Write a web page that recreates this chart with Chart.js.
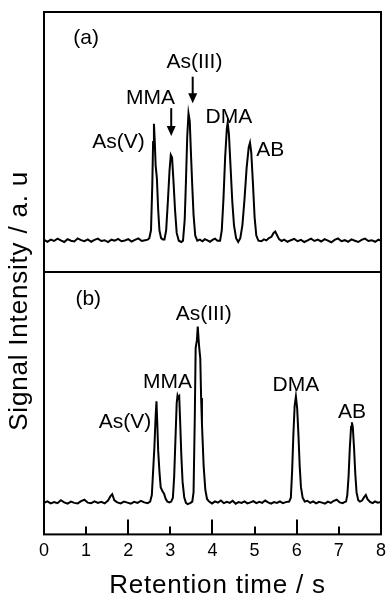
<!DOCTYPE html>
<html>
<head>
<meta charset="utf-8">
<script src="https://cdn.jsdelivr.net/npm/chart.js@4.4.1/dist/chart.umd.min.js"></script>
<style>
  html, body { margin: 0; padding: 0; background: #fff; }
  #wrap { width: 392px; height: 595px; }
</style>
</head>
<body>
<div id="wrap"><canvas id="c" width="392" height="595"></canvas></div>
<script>
// Panel (a): retention time (s) and detector signal (a.u.)
const timeA = [
  0.00,0.08,0.16,0.24,0.32,0.40,0.48,0.56,0.64,0.72,0.80,0.88,0.96,1.04,1.12,1.20,
  1.28,1.36,1.44,1.52,1.60,1.68,1.76,1.84,1.92,2.00,2.08,2.16,2.24,2.32,2.40,2.46,
  2.50,2.54,2.57,2.59,2.61,2.63,2.65,2.68,2.71,2.74,2.78,2.82,
  2.86,2.90,2.94,2.98,3.01,3.04,3.07,3.11,3.15,3.20,3.26,
  3.30,3.34,3.37,3.40,3.43,3.46,3.49,3.52,3.55,3.59,3.64,
  3.70,3.76,3.82,3.88,3.94,4.00,4.06,4.12,
  4.18,4.22,4.26,4.30,4.34,4.36,4.39,4.43,4.47,4.51,4.56,4.61,
  4.66,4.71,4.76,4.81,4.86,4.89,4.92,4.96,5.00,5.04,5.09,
  5.16,5.22,5.28,5.34,5.40,5.45,5.49,5.53,5.58,5.64,5.70,5.78,5.86,5.94,6.02,6.10,
  6.18,6.26,6.34,6.42,6.50,6.58,6.66,6.74,6.82,6.90,6.98,7.06,7.14,7.22,7.30,7.38,
  7.46,7.54,7.62,7.70,7.78,7.86,7.94,8.00
];
const signalA = [
  12.3,11.6,12.4,11.9,12.8,12.1,11.5,12.6,12.0,11.7,12.9,12.2,11.8,12.5,11.6,12.3,
  12.8,11.9,12.2,11.5,12.4,12.0,12.7,11.8,12.1,12.6,11.7,12.3,12.9,11.9,12.2,12.4,
  13.0,16.0,33.0,50.0,57.0,50.0,41.0,36.0,24.0,16.0,13.0,12.5,
  12.5,16.0,27.0,39.0,45.0,44.0,36.0,24.0,15.0,12.0,11.5,
  12.0,20.0,35.0,52.0,61.0,58.0,45.0,33.0,22.0,14.0,12.0,
  12.4,11.8,12.6,12.1,11.6,12.3,12.8,12.0,
  12.0,16.0,28.0,44.0,55.0,57.4,53.0,40.0,27.0,18.0,13.0,11.5,
  13.0,18.0,28.0,40.0,48.0,49.7,46.0,34.0,21.0,14.0,12.0,
  11.8,12.5,12.1,13.0,13.5,15.0,15.5,14.2,12.6,11.9,12.4,11.6,12.2,12.7,11.8,12.3,
  11.5,12.1,12.8,11.9,12.4,11.7,12.6,12.0,11.4,12.3,12.9,11.8,12.2,11.6,12.5,12.0,
  11.5,12.3,12.8,11.9,12.2,11.6,12.4,12.0
];

// Panel (b)
const timeB = [
  0.00,0.08,0.16,0.24,0.32,0.40,0.48,0.56,0.64,0.72,0.80,0.88,0.96,1.04,1.12,1.20,
  1.28,1.36,1.44,1.52,1.58,1.62,1.67,1.74,1.82,1.90,1.98,2.06,2.14,2.22,2.30,2.38,2.46,
  2.52,2.56,2.59,2.62,2.65,2.67,2.69,2.71,2.74,2.77,2.81,2.85,2.89,2.93,
  2.98,
  3.02,3.06,3.09,3.12,3.15,3.17,3.19,3.21,3.23,3.26,3.29,3.33,3.37,3.41,
  3.48,3.52,3.55,3.58,3.60,3.63,3.65,3.68,3.71,3.73,3.75,3.79,3.83,3.87,3.92,
  3.99,4.06,4.13,4.20,4.27,4.34,4.41,4.48,4.55,4.62,4.69,4.76,4.83,4.90,4.97,5.04,
  5.11,5.18,5.25,5.32,5.39,5.46,5.53,5.60,5.67,5.74,
  5.82,5.86,5.89,5.92,5.95,5.98,6.01,6.04,6.07,6.10,6.14,6.19,
  6.25,6.32,6.39,6.46,6.53,6.60,6.67,6.74,6.81,6.88,6.95,7.02,7.09,7.13,
  7.17,7.20,7.23,7.26,7.29,7.31,7.33,7.36,7.39,7.42,7.46,7.50,
  7.55,7.60,7.64,7.68,7.74,7.80,7.86,7.92,8.00
];
const signalB = [
  12.0,12.6,11.8,12.3,11.9,13.0,12.2,11.7,12.5,12.0,11.8,12.7,13.2,12.1,11.9,12.6,
  12.0,12.4,11.8,12.9,14.6,15.3,13.0,12.2,11.8,12.5,12.1,11.7,12.4,12.0,12.8,12.2,11.9,
  12.5,15.0,24.0,33.0,45.0,50.7,42.0,32.0,24.0,18.0,16.5,15.5,13.5,12.5,
  12.2,
  12.5,14.0,22.0,36.0,50.0,52.9,52.0,52.5,44.0,30.0,20.0,14.0,12.0,11.5,
  12.0,12.5,16.0,45.0,71.0,74.0,79.2,72.0,67.0,52.0,42.0,26.0,17.0,13.5,12.5,
  11.8,12.6,12.1,12.9,11.9,12.4,12.0,12.8,11.7,12.3,12.0,12.6,11.8,12.2,12.7,11.9,
  12.4,12.0,12.9,12.2,11.7,12.3,12.0,12.6,11.9,12.3,
  12.5,14.0,24.0,38.0,49.0,52.6,48.0,38.0,26.0,18.0,14.0,12.5,
  12.8,12.0,12.6,11.8,12.4,12.1,11.7,12.5,12.0,12.8,13.2,12.2,11.9,12.3,
  12.5,15.0,22.0,33.0,41.0,42.7,41.0,33.0,23.0,16.0,13.0,12.5,
  12.9,14.2,15.0,13.4,12.4,11.9,12.6,12.1,12.3
];

// Axis ticks (s)
const xTickValues = [0, 1, 2, 3, 4, 5, 6, 7, 8];

// Peak names and panel tags, anchored in (time, signal) units of each panel
const notesA = [
  { text: '(a)',     t: 1.00, v: 90.0 },
  { text: 'As(V)',   t: 1.77, v: 50.0 },
  { text: 'MMA',     t: 2.53, v: 66.9 },
  { text: 'As(III)', t: 3.57, v: 80.8 },
  { text: 'DMA',     t: 4.39, v: 59.6 },
  { text: 'AB',      t: 5.37, v: 46.9 }
];
const notesB = [
  { text: '(b)',     t: 1.05, v: 89.7 },
  { text: 'As(V)',   t: 1.92, v: 42.6 },
  { text: 'MMA',     t: 2.93, v: 57.8 },
  { text: 'As(III)', t: 3.79, v: 83.7 },
  { text: 'DMA',     t: 5.98, v: 56.7 },
  { text: 'AB',      t: 7.31, v: 46.4 }
];
// Downward arrows in panel (a): time, start signal, tip signal
const arrowsA = [
  { t: 3.02, from: 63.0, to: 52.3 },
  { t: 3.53, from: 75.1, to: 64.9 }
];

const FONT = "'Liberation Sans', Arial, Helvetica, sans-serif";
Chart.defaults.font.family = FONT;
Chart.defaults.color = '#000';

const toPoints = (ts, vs) => ts.map((t, i) => ({ x: t, y: vs[i] }));

const decorations = {
  id: 'decorations',
  afterDatasetsDraw(chart) {
    const { ctx, chartArea: a, scales } = chart;
    const x = scales.x, ya = scales.ya, yb = scales.yb;
    const upper = ya.top < yb.top ? ya : yb;
    ctx.save();
    ctx.strokeStyle = '#000';
    ctx.fillStyle = '#000';
    ctx.lineWidth = 2;
    ctx.lineCap = 'butt';

    // frame and panel divider
    ctx.strokeRect(a.left, a.top, a.right - a.left, a.bottom - a.top);
    ctx.beginPath();
    ctx.moveTo(a.left, upper.bottom);
    ctx.lineTo(a.right, upper.bottom);
    ctx.stroke();

    // inward ticks on the time axis
    xTickValues.forEach(v => {
      const px = Math.round(x.getPixelForValue(v));
      const len = v % 2 === 0 ? 15 : 8;
      ctx.beginPath();
      ctx.moveTo(px, a.bottom);
      ctx.lineTo(px, a.bottom - len);
      ctx.stroke();
    });

    // peak names
    ctx.textAlign = 'center';
    ctx.textBaseline = 'middle';
    ctx.font = '21px ' + FONT;
    const drawNotes = (notes, ys) => notes.forEach(n => {
      ctx.fillText(n.text, x.getPixelForValue(n.t), ys.getPixelForValue(n.v));
    });
    drawNotes(notesA, ya);
    drawNotes(notesB, yb);

    // arrows
    arrowsA.forEach(ar => {
      const px = x.getPixelForValue(ar.t);
      const y0 = ya.getPixelForValue(ar.from);
      const y1 = ya.getPixelForValue(ar.to);
      ctx.beginPath();
      ctx.moveTo(px, y0);
      ctx.lineTo(px, y1 - 8);
      ctx.stroke();
      ctx.beginPath();
      ctx.moveTo(px - 4.5, y1 - 10);
      ctx.lineTo(px + 4.5, y1 - 10);
      ctx.lineTo(px, y1);
      ctx.closePath();
      ctx.fill();
    });

    // axis titles
    ctx.font = '26px ' + FONT;
    try { ctx.letterSpacing = '0.8px'; } catch (e) {}
    ctx.textBaseline = 'alphabetic';
    ctx.textAlign = 'center';
    ctx.fillText('Retention time / s', (a.left + a.right) / 2 + 5, a.bottom + 59);

    ctx.translate(a.left - 17, a.top + 0.553 * (a.bottom - a.top));
    ctx.rotate(-Math.PI / 2);
    ctx.fillText('Signal Intensity / a. u', 0, 0);
    ctx.restore();
  }
};

const hiddenY = (weight) => ({
  type: 'linear',
  position: 'left',
  stack: 'panels',
  stackWeight: weight,
  min: 0,
  max: 100,
  display: true,
  ticks: { display: false },
  grid: { display: false, drawTicks: false },
  border: { display: false }
});

new Chart(document.getElementById('c'), {
  type: 'line',
  data: {
    datasets: [
      {
        label: '(a)',
        data: toPoints(timeA, signalA),
        yAxisID: 'ya',
        borderColor: '#000',
        borderWidth: 2,
        pointRadius: 0,
        tension: 0,
        fill: false
      },
      {
        label: '(b)',
        data: toPoints(timeB, signalB),
        yAxisID: 'yb',
        borderColor: '#000',
        borderWidth: 2,
        pointRadius: 0,
        tension: 0,
        fill: false
      }
    ]
  },
  options: {
    responsive: false,
    animation: false,
    devicePixelRatio: 1,
    layout: { padding: { left: 44, right: 5, top: 12, bottom: 27 } },
    plugins: {
      legend: { display: false },
      tooltip: { enabled: false }
    },
    scales: {
      x: {
        type: 'linear',
        min: 0,
        max: 8,
        afterBuildTicks: (scale) => { scale.ticks = xTickValues.map(v => ({ value: v })); },
        ticks: { font: { size: 18 }, padding: 6, color: '#000' },
        grid: { display: false, drawTicks: false },
        border: { display: false }
      },
      // the stack is laid out with the last-listed axis on top
      yb: hiddenY(1.01),
      ya: hiddenY(1)
    }
  },
  plugins: [decorations]
});
</script>
</body>
</html>
